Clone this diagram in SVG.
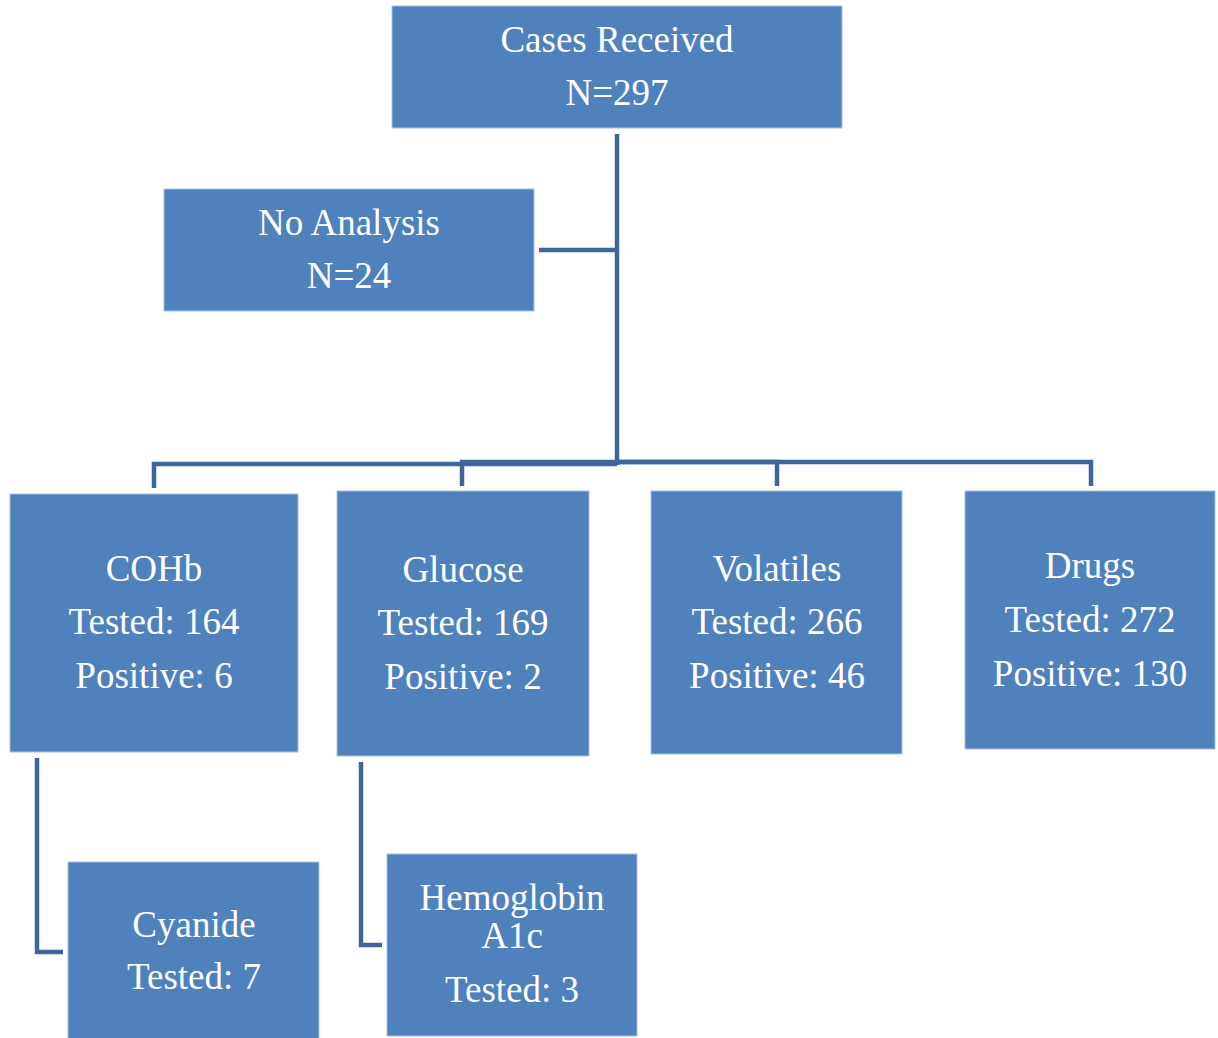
<svg xmlns="http://www.w3.org/2000/svg" width="1218" height="1038" viewBox="0 0 1218 1038">
<style>
.box{fill:#4f81bd;stroke:#a9c0de;stroke-width:1}
.t{font-family:"Liberation Serif","Times New Roman",serif;font-size:37px;fill:#ffffff;text-anchor:middle}
.c{fill:none;stroke:#40659a;stroke-width:4.5;stroke-linejoin:miter}
</style>
<rect width="1218" height="1038" fill="#ffffff"/>
<g id="connectors">
<path class="c" d="M617,134 V465"/>
<path class="c" d="M539,250 H617"/>
<path class="c" d="M154,488 V464 H617"/>
<path class="c" d="M462,486 V462 H617"/>
<path class="c" d="M777,486 V462 H617"/>
<path class="c" d="M1091,486 V462 H617"/>
<path class="c" d="M37,758 V952 H63"/>
<path class="c" d="M361,762 V945 H382"/>
</g>
<g id="cases">
<rect class="box" x="392" y="6" width="450" height="122"/>
<text class="t" x="617" y="52">Cases Received</text>
<text class="t" x="617" y="105">N=297</text>
</g>
<g id="noanalysis">
<rect class="box" x="164" y="189" width="370" height="122"/>
<text class="t" x="349" y="235">No Analysis</text>
<text class="t" x="349" y="288">N=24</text>
</g>
<g id="cohb">
<rect class="box" x="10" y="494" width="288" height="258"/>
<text class="t" x="154" y="581">COHb</text>
<text class="t" x="154" y="634">Tested: 164</text>
<text class="t" x="154" y="688">Positive: 6</text>
</g>
<g id="glucose">
<rect class="box" x="337" y="491" width="252" height="265"/>
<text class="t" x="463" y="582">Glucose</text>
<text class="t" x="463" y="635">Tested: 169</text>
<text class="t" x="463" y="689">Positive: 2</text>
</g>
<g id="volatiles">
<rect class="box" x="651" y="491" width="251" height="263"/>
<text class="t" x="777" y="581">Volatiles</text>
<text class="t" x="777" y="634">Tested: 266</text>
<text class="t" x="777" y="688">Positive: 46</text>
</g>
<g id="drugs">
<rect class="box" x="965" y="491" width="250" height="258"/>
<text class="t" x="1090" y="578">Drugs</text>
<text class="t" x="1090" y="632">Tested: 272</text>
<text class="t" x="1090" y="686">Positive: 130</text>
</g>
<g id="cyanide">
<rect class="box" x="68" y="862" width="251" height="178"/>
<text class="t" x="194" y="937">Cyanide</text>
<text class="t" x="194" y="989">Tested: 7</text>
</g>
<g id="hba1c">
<rect class="box" x="387" y="854" width="250" height="182"/>
<text class="t" x="512" y="910">Hemoglobin</text>
<text class="t" x="512" y="948">A1c</text>
<text class="t" x="512" y="1002">Tested: 3</text>
</g>
</svg>
